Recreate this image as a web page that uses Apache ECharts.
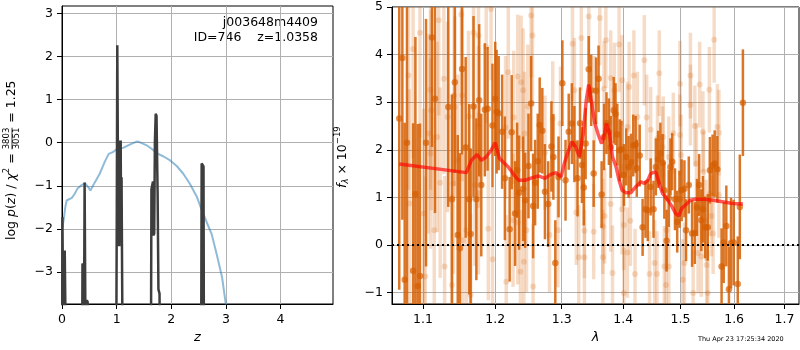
<!DOCTYPE html>
<html><head><meta charset="utf-8">
<script src="https://cdn.jsdelivr.net/npm/echarts@6/dist/echarts.min.js"></script>
<style>html,body{margin:0;padding:0;background:#fff}#c{width:800px;height:350px}</style>
</head><body><div id="c"></div>
<script>
// ---------- Left panel: log p(z) ----------
const zTicks = [0, 1, 2, 3, 4];
const pzTicks = [-3, -2, -1, 0, 1, 2, 3];
// smooth prior-like curve (blue)
const blueZ = [0.01,0.037,0.06,0.085,0.11, 0.18,0.23,0.28,0.35,0.42, 0.48,0.52,0.60,0.69,0.78, 0.855,0.93,1.01,1.12,1.21, 1.30,1.38,1.46,1.55,1.64, 1.73,1.86,1.98,2.10,2.22, 2.34,2.47,2.56,2.65,2.74, 2.83,2.93,3.00];
const blueV = [-1.95,-1.73,-1.50,-1.34,-1.30, -1.28,-1.19,-1.07,-0.99,-0.94, -1.03,-1.11,-0.92,-0.72,-0.45, -0.26,-0.22,-0.14,-0.12,-0.06, -0.01,0.03,-0.01,-0.06,-0.14, -0.24,-0.32,-0.41,-0.54,-0.72, -0.95,-1.26,-1.57,-1.85,-2.12, -2.58,-3.12,-3.76];
// spiky log p(z) (dark), -6 = far below the axis
const pzZ = [0.0,0.008,0.02,0.032,0.05,0.065,0.08,
  0.365,0.375,0.388,0.398,0.405,0.414,0.426,0.437,0.455,0.47,0.482,
  0.99,1.003,1.012,1.022,1.032,1.042,1.05,1.058,1.066,1.074,1.082,1.09,1.1,1.115,
  1.625,1.637,1.652,1.665,1.675,1.688,1.70,1.715,1.73,1.75,1.765,1.785,1.80,
  2.545,2.556,2.575,2.59,2.60];
const pzLogp = [-6,-1.73,-1.75,-6,-2.5,-2.52,-6,
  -6,-2.8,-2.85,-6,-3.5,-0.92,-0.95,-6,-3.65,-3.7,-6,
  -6,-1.5,2.26,2.22,-2.4,0.05,-2.4,0.02,-2.3,0.05,-2.2,-0.8,-3.0,-6,
  -6,-1.08,-1.05,-0.9,-2.15,-2.1,0.0,0.67,0.62,-1.2,-3.4,-3.5,-6,
  -6,-0.48,-0.45,-0.55,-6];

// ---------- Right panel: spectrum ----------
const lamTicks = [1.1, 1.2, 1.3, 1.4, 1.5, 1.6, 1.7];
const fluxTicks = [-1, 0, 1, 2, 3, 4, 5];
const darkWave = [1.069,1.073,1.076,1.079,1.087,1.090,1.093,1.096,1.104,1.112,
  1.116,1.134,1.139,1.143,1.147,1.150,1.153,1.158,1.163,1.165,
  1.169,1.173,1.177,1.180,1.185,1.189,1.196,1.200,1.202,1.205,
  1.210,1.214,1.221,1.224,1.229,1.232,1.235,1.241,1.244,1.249,
  1.253,1.256,1.259,1.263,1.266,1.270,1.274,1.279,1.284,1.287,
  1.290,1.295,1.301,1.306,1.311,1.316,1.320,1.325,1.329,1.332,
  1.335,1.338,1.343,1.347,1.351,1.355,1.359,1.364,1.368,1.372,
  1.376,1.379,1.384,1.387,1.390,1.394,1.397,1.401,1.405,1.409,
  1.413,1.417,1.421,1.423,1.428,1.433,1.438,1.442,1.447,1.452,
  1.456,1.460,1.464,1.468,1.471,1.475,1.479,1.482,1.485,1.490,
  1.494,1.498,1.502,1.507,1.510,1.515,1.521,1.526,1.530,1.534,
  1.538,1.541,1.545,1.550,1.554,1.559,1.563,1.568,1.576,1.580,
  1.585,1.590,1.594,1.599,1.607,1.611,1.617];
const darkFlux = [2.66,3.93,-0.73,2.15,-0.54,1.07,-0.86,-0.65,2.15,4.36,
  3.07,2.90,0.96,3.42,0.21,-0.07,3.70,2.05,0.96,0.23,
  2.91,0.96,3.04,1.26,2.84,2.86,2.51,3.07,2.80,2.77,
  2.38,1.40,0.33,2.37,0.66,1.57,1.10,1.18,0.94,1.66,
  2.97,0.82,1.31,1.76,2.52,2.40,1.12,0.86,2.07,1.85,
  -0.38,1.43,3.40,1.36,2.38,2.55,2.12,1.40,2.56,1.68,
  1.21,2.13,3.69,3.25,1.50,3.24,3.49,1.06,2.27,2.56,
  2.38,2.06,2.83,2.75,2.32,1.99,2.01,1.47,1.85,1.64,
  1.74,2.09,2.11,1.61,1.88,0.37,0.75,0.73,1.22,0.75,
  1.64,1.80,1.92,1.73,1.15,0.09,0.98,1.64,1.75,0.96,
  0.49,0.96,1.15,1.18,0.31,1.26,0.24,0.25,0.79,1.26,
  0.52,0.75,0.37,0.37,1.57,1.67,1.71,1.59,-0.45,0.05,
  0.40,-0.93,0.04,0.05,-0.82,0.80,2.99];
const darkErr = [3.6,3.4,3.3,3.5,3.1,3.3,3.4,3.2,2.6,2.3,
  2.4,2.1,2.2,1.9,2.1,2.0,1.8,1.9,2.0,1.8,
  1.9,1.7,1.6,1.5,1.4,1.3,1.3,1.2,1.3,1.2,
  1.2,1.3,1.1,1.2,1.1,1.0,1.2,1.1,1.0,1.1,
  1.0,1.1,0.9,1.0,1.0,0.9,1.0,0.9,0.95,0.9,
  0.9,0.85,0.9,0.85,0.8,0.85,0.8,0.8,0.75,0.8,
  0.8,0.75,0.7,0.75,0.7,0.7,0.7,0.7,0.7,0.65,
  0.7,0.65,0.7,0.65,0.65,0.65,0.6,0.65,0.6,0.65,
  0.6,0.65,0.6,0.6,0.65,0.6,0.6,0.65,0.6,0.6,
  0.6,0.6,0.65,0.6,0.6,0.65,0.6,0.6,0.6,0.65,
  0.65,0.6,0.65,0.6,0.65,0.6,0.7,0.65,0.6,0.65,
  0.65,0.7,0.65,0.7,0.7,0.65,0.7,0.7,0.8,0.85,
  0.85,0.9,0.95,0.9,1.0,1.1,1.12];
const lightWave = [1.096,1.121,1.152,1.169,1.176,1.087,1.081,1.110,1.128,1.142,1.153,1.111,1.133,1.143,1.162,1.176,1.107,1.119,1.110,1.147,1.082,1.123,1.141,1.171,1.176,1.101,1.115,1.159,1.154,1.129,1.139,1.165,1.103,
  1.253,1.255,1.187,1.219,1.233,1.238,1.241,1.248,1.227,1.215,1.243,1.274,1.286,1.298,1.226,1.233,1.246,1.281,1.294,1.190,1.196,1.242,1.237,1.216,1.256,1.194,
  1.343,1.361,1.331,1.317,1.320,1.371,1.393,1.418,1.436,1.462,1.379,1.385,1.398,1.410,1.368,1.352,1.424,1.440,1.447,1.459,1.407,1.369,1.366,1.401,1.412,1.379,1.398,1.323,1.336,1.351,1.327,1.336,1.366,1.382,1.407,1.420,1.445,1.458,1.401,1.454,
  1.562,1.518,1.535,1.553,1.499,1.518,1.526,1.541,1.568,1.571,1.499,1.487,1.469,1.468,1.479,1.529,1.542,1.501,1.554,1.571,1.547,1.557,1.560,1.475,1.532,1.538,1.548,1.471,1.479,1.507,1.523,1.550,1.504,1.474];
const lightFlux = [4.46,4.72,4.84,4.46,4.40,4.12,3.56,3.26,3.49,3.14,3.14,2.83,2.69,2.90,2.70,2.48,2.34,2.27,1.92,1.78,0.87,1.31,1.29,1.26,1.08,0.66,0.31,0.31,0.10,-0.45,-0.84,-1.05,-0.66,
  4.82,4.40,4.16,3.63,3.54,3.42,3.25,2.91,2.68,2.47,2.34,1.94,2.66,2.55,0.52,0.47,0.31,0.21,0.31,0.34,-0.30,-0.35,-0.56,-0.77,-0.87,4.96,
  4.80,4.77,4.35,4.23,3.25,4.30,4.21,3.56,3.88,3.61,3.51,3.25,3.46,3.32,3.28,2.97,2.69,2.68,2.42,2.24,2.48,0.61,0.39,0.42,0.51,0.86,0.75,0.68,0.30,0.28,-0.26,-0.26,-0.26,-0.59,-0.16,-0.61,-0.61,-0.61,-1.01,-0.38,
  4.31,3.56,3.37,3.26,3.39,2.94,2.50,2.38,2.48,2.36,2.31,2.35,2.27,2.06,1.85,1.71,1.54,1.89,1.08,1.05,0.52,0.61,0.24,0.31,-0.17,-0.24,-0.42,-0.45,-0.45,-0.38,-1.01,-1.01,-0.73,-0.84];
const lightErr = [2.2,2.0,1.9,1.8,1.9,2.3,2.4,2.1,2.0,1.9,1.8,2.1,2.0,1.9,1.8,1.7,2.1,2.0,2.0,1.8,2.4,2.0,1.9,1.7,1.7,2.2,2.0,1.8,1.8,1.9,1.9,1.7,2.1,
  1.3,1.4,1.6,1.4,1.3,1.4,1.3,1.3,1.4,1.5,1.3,1.2,1.2,1.2,1.4,1.3,1.3,1.2,1.2,1.5,1.5,1.3,1.3,1.4,1.3,1.5,
  1.0,1.0,1.1,1.2,1.1,1.0,1.0,0.95,0.95,0.9,1.0,1.0,0.95,0.95,1.0,1.0,0.95,0.9,0.9,0.9,0.95,1.0,1.0,0.95,0.95,1.0,0.95,1.1,1.0,1.0,1.1,1.0,1.0,1.0,0.95,0.95,0.9,0.9,0.95,0.9,
  0.9,0.9,0.9,0.9,0.9,0.85,0.85,0.85,0.9,0.9,0.85,0.85,0.85,0.85,0.85,0.85,0.85,0.85,0.9,0.9,0.85,0.85,0.85,0.85,0.85,0.85,0.85,0.85,0.85,0.85,0.9,0.9,0.85,0.85];
const modelWave = [1.069,1.159,1.166,1.174,1.180,1.187,1.194,1.200,1.206,1.211,1.219,1.226,1.234,1.244,1.254,1.264,1.274,1.284,1.291,1.299,1.304,1.309,1.316,1.322,1.328,1.334,1.339,1.343,1.347,1.353,1.358,1.364,1.369,1.372,1.377,1.382,1.388,1.393,1.398,1.404,1.413,1.421,1.430,1.436,1.442,1.447,1.456,1.462,1.468,1.473,1.479,1.485,1.491,1.497,1.502,1.509,1.518,1.527,1.542,1.560,1.578,1.597,1.617];
const modelFlux = [1.70,1.52,1.78,1.90,1.78,1.85,1.99,2.15,1.82,1.75,1.64,1.50,1.36,1.36,1.41,1.45,1.40,1.49,1.52,1.43,1.71,1.92,2.17,2.06,1.85,2.34,3.04,3.37,3.04,2.55,2.34,2.13,2.34,2.55,2.34,1.85,1.64,1.36,1.15,1.10,1.10,1.22,1.33,1.29,1.36,1.50,1.54,1.29,1.08,1.01,0.91,0.80,0.66,0.61,0.77,0.84,0.94,0.96,0.96,0.94,0.91,0.87,0.86];

const lamMin = 1.0597, lamMax = 1.730;
const FONT = "'DejaVu Sans'";
const ORANGE = '213,94,0';

const minusFmt = v => (v < 0 ? '\u2212' : '') + Math.abs(v);

function axisBase() {
  return {
    type: 'value',
    axisLine: {show: true, onZero: false, lineStyle: {color: '#000', width: 1}},
    axisTick: {show: true, inside: false, length: 5, lineStyle: {color: '#000', width: 1}},
    axisLabel: {color: '#000', fontFamily: FONT, fontSize: 12.5, margin: 9},
    splitLine: {show: true, lineStyle: {color: '#b0b0b0', width: 1}}
  };
}
function withTicks(ax, vals, fmt) {
  ax.axisTick.customValues = vals;
  ax.axisLabel.customValues = vals;
  ax.axisLabel.formatter = fmt;
  return ax;
}

function errSeries(ws, fs, es, color, width, z) {
  return {
    type: 'custom', xAxisIndex: 1, yAxisIndex: 1, clip: true, silent: true, z: z,
    data: ws.map((w, i) => [Math.log(w), fs[i] - es[i], fs[i] + es[i]]),
    encode: {x: 0, y: [1, 2]},
    renderItem: (params, api) => {
      const lo = api.coord([api.value(0), api.value(1)]);
      const hi = api.coord([api.value(0), api.value(2)]);
      return {type: 'line', shape: {x1: lo[0], y1: lo[1], x2: hi[0], y2: hi[1]},
        style: {stroke: color, lineWidth: width}};
    }
  };
}

// label helpers
const mctx = document.createElement('canvas').getContext('2d');
function tw(text, font) { mctx.font = font; return mctx.measureText(text).width; }
function txt(x, y, text, font, align) {
  return {type: 'text', x: x, y: y, style: {text: text, font: font, fill: '#000',
    align: align || 'left', verticalAlign: 'middle', textAlign: align || 'left', textVerticalAlign: 'middle'}};
}
function rotLabel(cx, startY, pieces) {
  const children = []; let x = 0;
  pieces.forEach(p => {
    if (p.frac) {
      const w = Math.max(tw(p.num, p.font), tw(p.den, p.font));
      children.push(txt(x + w / 2, -5, p.num, p.font, 'center'));
      children.push(txt(x + w / 2, 5, p.den, p.font, 'center'));
      children.push({type: 'line', shape: {x1: x, y1: 0, x2: x + w, y2: 0}, style: {stroke: '#000', lineWidth: 0.8}});
      x += w + 1;
    } else {
      children.push(txt(x, p.dy || 0, p.text, p.font));
      x += tw(p.text, p.font);
    }
  });
  return {type: 'group', x: cx, y: startY, rotation: Math.PI / 2, children: children};
}
const fN = "12.5px " + FONT, fI = "italic 12.5px " + FONT, fS = "8.5px " + FONT, fSI = "italic 8.5px " + FONT;

const chart = echarts.init(document.getElementById('c'), null, {renderer: 'canvas'});
const xL = withTicks(axisBase(), zTicks, minusFmt);
Object.assign(xL, {gridIndex: 0, min: 0, max: 4.96, name: 'z', nameLocation: 'middle', nameGap: 26,
  nameTextStyle: {fontFamily: FONT, fontStyle: 'italic', fontSize: 13, color: '#000'}});
const yL = withTicks(axisBase(), pzTicks, minusFmt);
Object.assign(yL, {gridIndex: 0, min: -3.74, max: 3.17});
const xR = withTicks(axisBase(), lamTicks.map(Math.log), v => Math.exp(v).toFixed(1));
Object.assign(xR, {gridIndex: 1, min: Math.log(lamMin), max: Math.log(lamMax), name: '\u03bb', nameLocation: 'middle', nameGap: 26,
  nameTextStyle: {fontFamily: FONT, fontStyle: 'italic', fontSize: 13, color: '#000'}});
const yR = withTicks(axisBase(), fluxTicks, minusFmt);
Object.assign(yR, {gridIndex: 1, min: -1.24, max: 5});

chart.setOption({
  animation: false,
  grid: [
    {left: 62, top: 6, width: 271, height: 298, show: true, borderColor: '#000', borderWidth: 1, backgroundColor: 'transparent'},
    {left: 392, top: 7, width: 407, height: 297, show: true, borderColor: '#000', borderWidth: 1, backgroundColor: 'transparent'}
  ],
  xAxis: [xL, xR],
  yAxis: [yL, yR],
  series: [
    {type: 'line', xAxisIndex: 0, yAxisIndex: 0, data: blueZ.map((z, i) => [z, blueV[i]]),
      showSymbol: false, symbol: 'none', lineStyle: {color: 'rgba(31,119,180,0.5)', width: 2}, z: 3},
    {type: 'line', xAxisIndex: 0, yAxisIndex: 0, data: pzZ.map((z, i) => [z, pzLogp[i]]),
      showSymbol: false, symbol: 'none', lineStyle: {color: '#3d3d3d', width: 2.5}, z: 4},
    errSeries(lightWave, lightFlux, lightErr, 'rgba(' + ORANGE + ',0.22)', 3.5, 2),
    {type: 'scatter', xAxisIndex: 1, yAxisIndex: 1, data: lightWave.map((w, i) => [Math.log(w), lightFlux[i]]),
      symbolSize: 6, itemStyle: {color: 'rgba(' + ORANGE + ',0.25)'}, z: 3, silent: true},
    errSeries(darkWave, darkFlux, darkErr, 'rgba(' + ORANGE + ',0.85)', 2.5, 4),
    {type: 'scatter', xAxisIndex: 1, yAxisIndex: 1, data: darkWave.map((w, i) => [Math.log(w), darkFlux[i]]),
      symbolSize: 6.5, itemStyle: {color: 'rgba(' + ORANGE + ',0.85)'}, z: 5, silent: true},
    {type: 'line', xAxisIndex: 1, yAxisIndex: 1, data: modelWave.map((w, i) => [Math.log(w), modelFlux[i]]),
      showSymbol: false, symbol: 'none', lineStyle: {color: 'rgba(255,0,0,0.65)', width: 3.5}, z: 6,
      markLine: {silent: true, symbol: 'none', label: {show: false}, z: 7,
        lineStyle: {color: '#000', type: [2, 3], width: 2}, data: [{yAxis: 0}]}}
  ],
  graphic: [
    txt(318, 23, 'j003648m4409', fN, 'right'),
    txt(318, 38, 'ID=746    z=1.0358', fN, 'right'),
    txt(698, 339, 'Thu Apr 23 17:25:34 2020', "6.5px " + FONT, 'left'),
    rotLabel(12, 240, [
      {text: 'log ', font: fN}, {text: 'p', font: fI}, {text: '(', font: fN}, {text: 'z', font: fI},
      {text: ') / ', font: fN}, {text: '\u03c7', font: fI}, {text: '2', font: fS, dy: -5},
      {text: ' = ', font: fN}, {frac: true, num: '3803', den: '3051', font: fS}, {text: ' = 1.25', font: fN}
    ]),
    rotLabel(343, 188, [
      {text: 'f', font: fI}, {text: '\u03bb', font: fSI, dy: 3}, {text: ' \u00d7 10', font: fN}, {text: '\u221219', font: fS, dy: -5}
    ])
  ]
});
</script></body></html>
